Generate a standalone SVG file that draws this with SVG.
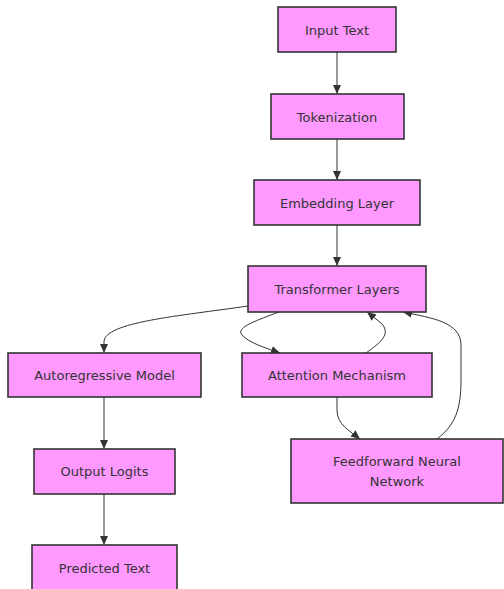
<svg xmlns="http://www.w3.org/2000/svg" width="504" height="589" viewBox="0 0 504 589">
<style>
.node rect{fill:#ff99ff;stroke:#333;stroke-width:1.6}
.node text{font-family:"DejaVu Sans",sans-serif;font-size:13px;fill:#333;text-anchor:middle}
.edge{fill:none;stroke:#333;stroke-width:1}
</style>
<defs>
<marker id="arr" markerUnits="userSpaceOnUse" markerWidth="10" markerHeight="10" refX="9" refY="5" orient="auto">
<path d="M0,1 L9,5 L0,9 Z" fill="#333"/>
</marker>
</defs>
<rect width="504" height="589" fill="#fff"/>
<g id="connectors">
<path class="edge" d="M337,52 L337,94" marker-end="url(#arr)"/>
<path class="edge" d="M337,139 L337,180" marker-end="url(#arr)"/>
<path class="edge" d="M337,225 L337,266" marker-end="url(#arr)"/>
<path class="edge" d="M248,306 C180,316 104,322 104,342 L104,353" marker-end="url(#arr)"/>
<path class="edge" d="M279,312 C252,322 236,328 242,335 C249,343 266,348 280,353" marker-end="url(#arr)"/>
<path class="edge" d="M366,353 C380,343 392,334 381,323 L367,312" marker-end="url(#arr)"/>
<path class="edge" d="M337,397 L337,410 C337,425 350,431 360,439" marker-end="url(#arr)"/>
<path class="edge" d="M437,439 C455,425 461,410 461,380 L461,345 C461,322 432,318 403,312" marker-end="url(#arr)"/>
<path class="edge" d="M104,397 L104,449" marker-end="url(#arr)"/>
<path class="edge" d="M104,494 L104,545" marker-end="url(#arr)"/>
</g>
<g id="input" class="node"><rect x="278" y="7" width="118" height="45"/><text x="337" y="34.5">Input Text</text></g>
<g id="tokenization" class="node"><rect x="271" y="94" width="133" height="45"/><text x="337" y="121.5">Tokenization</text></g>
<g id="embedding" class="node"><rect x="254" y="180" width="166" height="45"/><text x="337" y="207.5">Embedding Layer</text></g>
<g id="transformer" class="node"><rect x="248" y="266" width="178" height="46"/><text x="337" y="293.5">Transformer Layers</text></g>
<g id="attention" class="node"><rect x="242" y="353" width="190" height="44"/><text x="337" y="379.5">Attention Mechanism</text></g>
<g id="ffn" class="node"><rect x="291" y="439" width="212" height="64"/><text x="397" y="466">Feedforward Neural</text><text x="397" y="485.5">Network</text></g>
<g id="autoregressive" class="node"><rect x="8" y="353" width="193" height="44"/><text x="104.5" y="379.5">Autoregressive Model</text></g>
<g id="logits" class="node"><rect x="34" y="449" width="141" height="45"/><text x="104.5" y="476">Output Logits</text></g>
<g id="predicted" class="node"><rect x="32" y="545" width="145" height="45"/><text x="104.5" y="572.5">Predicted Text</text></g>
</svg>
